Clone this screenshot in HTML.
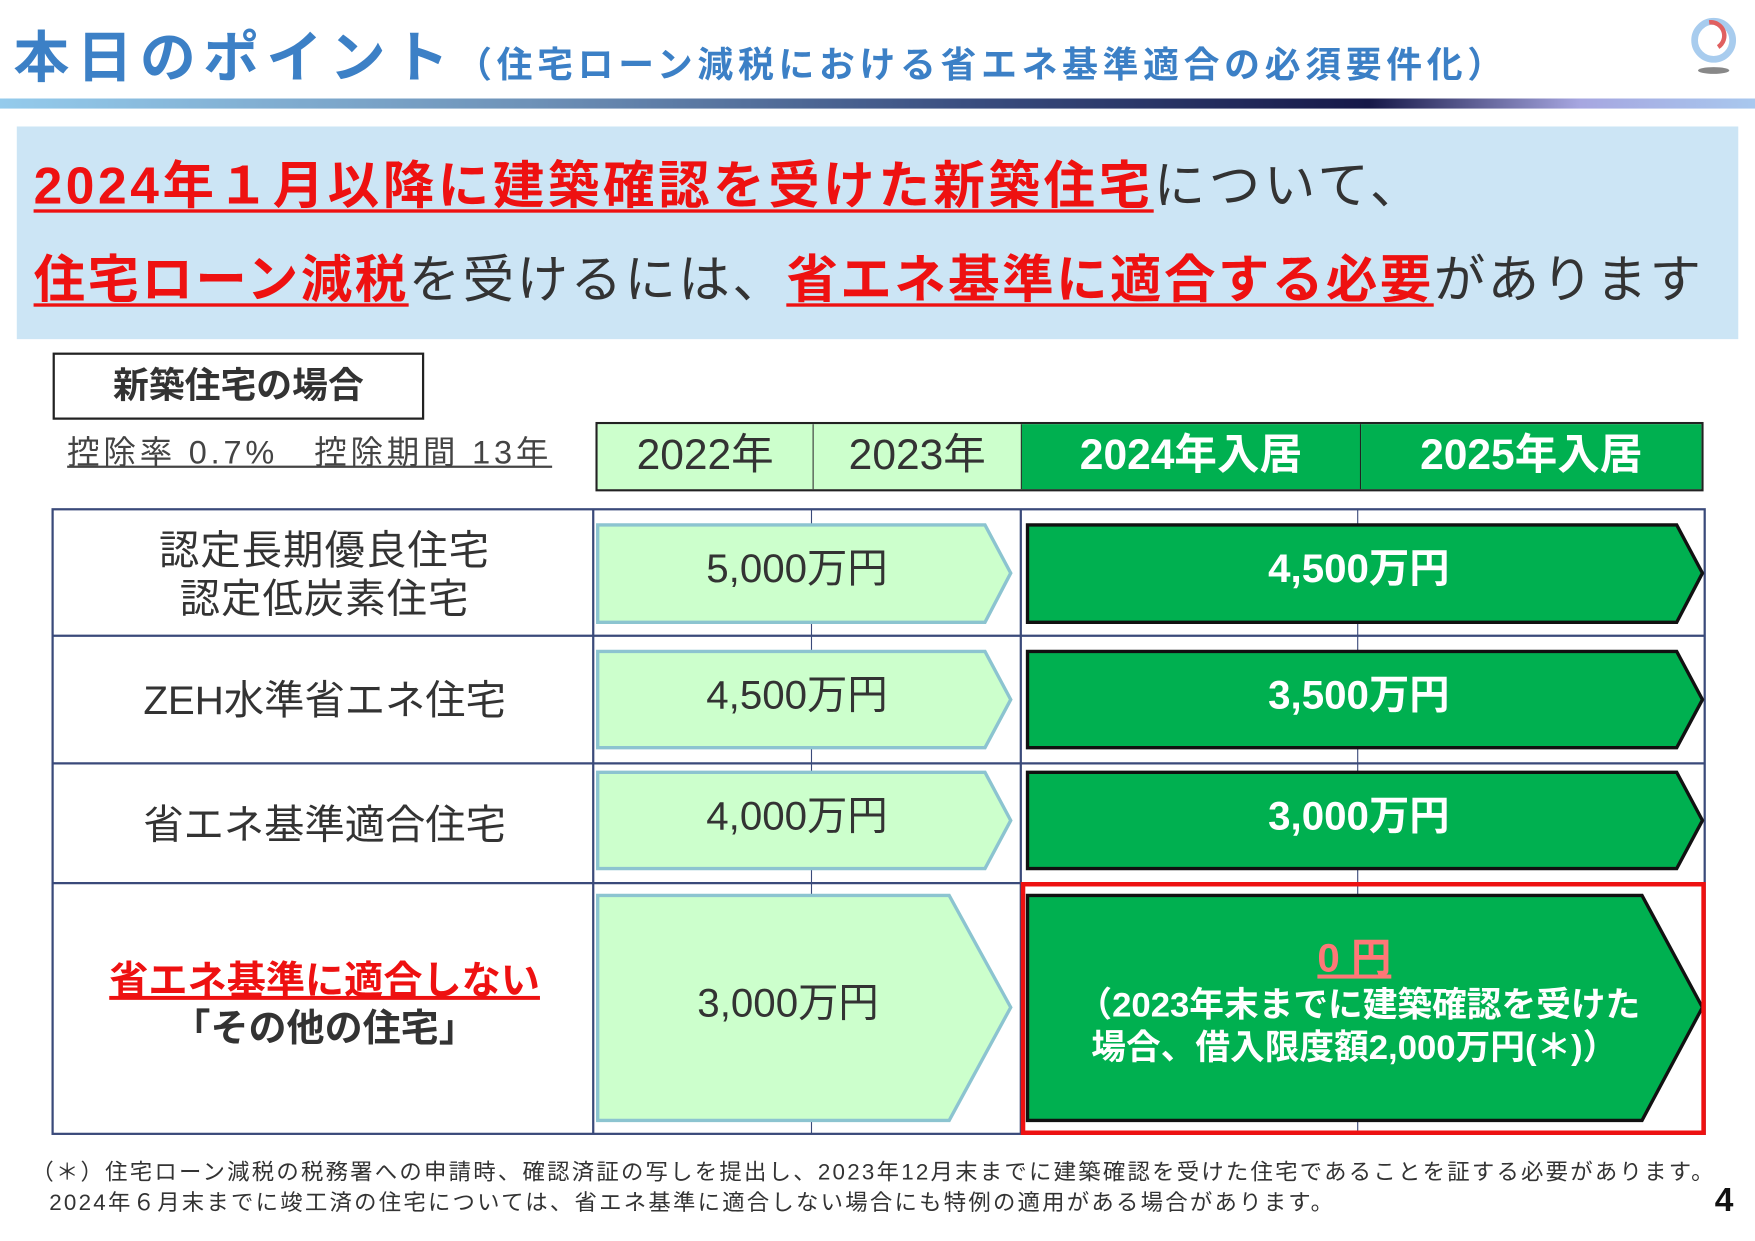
<!DOCTYPE html>
<html><head><meta charset="utf-8"><style>
html,body{margin:0;padding:0;background:#fff;}
body{width:1755px;height:1241px;overflow:hidden;position:relative;font-family:"Liberation Sans","Noto Sans CJK JP",sans-serif;}
#w{position:absolute;left:0;top:0;width:1568px;height:1109px;transform:scale(1.1193);transform-origin:0 0;}
.a{position:absolute;white-space:nowrap;}
.r{color:#ee1111;font-weight:bold;text-decoration:underline;text-decoration-thickness:3px;text-underline-offset:5px;}
.g{color:#333;}
</style></head><body><div id="w">
<div class="a" style="left:12px;top:20px;font-size:50px;font-weight:bold;color:#3c80c6;line-height:64px;letter-spacing:6.5px;">本日のポイント<span style="font-size:32px;letter-spacing:4.2px;">（住宅ローン減税における省エネ基準適合の必須要件化）</span></div>
<div class="a" style="left:0;top:88px;width:1568px;height:9px;background:linear-gradient(90deg,#94cbec 0%,#6e92b8 30%,#3a4e80 55%,#161848 78%,#a6a6e0 90%,#a8c8ee 100%);"></div>
<svg class="a" style="left:1505px;top:12px" width="55" height="58" viewBox="0 0 55 58">
<circle cx="26" cy="24" r="17" fill="none" stroke="#a8ccee" stroke-width="6"/>
<path d="M22 8 A12 12 0 0 1 30 30" fill="none" stroke="#e06060" stroke-width="4"/>
<ellipse cx="26" cy="51" rx="14" ry="3" fill="#888"/></svg>
<div class="a" style="left:15px;top:113px;width:1538px;height:190px;background:#cce5f5;"></div>
<div class="a" style="left:30px;top:136px;font-size:46px;line-height:60px;letter-spacing:3.2px;"><span class="r">2024年１月以降に建築確認を受けた新築住宅</span><span class="g">について、</span></div>
<div class="a" style="left:30px;top:220px;font-size:46px;line-height:60px;letter-spacing:2.2px;"><span class="r">住宅ローン減税</span><span class="g">を受けるには、</span><span class="r">省エネ基準に適合する必要</span><span class="g">があります</span></div>
<div class="a" style="left:47px;top:315px;width:328px;height:56px;border:2px solid #222;font-size:32px;font-weight:bold;color:#333;text-align:center;line-height:54px;">新築住宅の場合</div>
<div class="a" style="left:60px;top:386px;font-size:29px;color:#444;text-decoration:underline;line-height:38px;letter-spacing:3.4px;">控除率 0.7%　控除期間 13年</div>
<div class="a" style="left:532px;top:377px;width:990px;height:62px;border:2px solid #222;box-sizing:border-box;display:flex;font-size:38px;line-height:56px;text-align:center;">
<div style="width:192px;background:#ccffcc;color:#333;border-right:1px solid #222;">2022年</div>
<div style="width:185px;background:#ccffcc;color:#333;border-right:1px solid #222;">2023年</div>
<div style="width:302px;background:#00b050;color:#fff;font-weight:bold;border-right:1px solid #222;">2024年入居</div>
<div style="flex:1;background:#00b050;color:#fff;font-weight:bold;">2025年入居</div></div>
<svg class="a" style="left:0;top:0" width="1568" height="1109">
<g stroke="#3a4a7a" stroke-width="2" fill="none">
<rect x="47" y="455" width="1476" height="558"/>
<line x1="47" y1="568" x2="1523" y2="568"/><line x1="47" y1="682" x2="1523" y2="682"/><line x1="47" y1="789" x2="1523" y2="789"/>
<line x1="530" y1="455" x2="530" y2="1013"/><line x1="912" y1="455" x2="912" y2="1013"/>
<line x1="725" y1="455" x2="725" y2="1013" stroke-width="1"/><line x1="1213" y1="455" x2="1213" y2="1013" stroke-width="1"/></g>
<g fill="#ccffcc" stroke="#8cc4d0" stroke-width="3">
<polygon points="534,469 880,469 903,512 880,556 534,556"/>
<polygon points="534,582 880,582 903,625 880,668 534,668"/>
<polygon points="534,690 880,690 903,733 880,776 534,776"/>
<polygon points="534,800 848,800 903,900 848,1001 534,1001"/></g>
<g fill="#00b050" stroke="#111" stroke-width="3">
<polygon points="918,469 1498,469 1521,512 1498,556 918,556"/>
<polygon points="918,582 1498,582 1521,625 1498,668 918,668"/>
<polygon points="918,690 1498,690 1521,733 1498,776 918,776"/>
<polygon points="918,800 1467,800 1521,900 1467,1001 918,1001"/></g>
<rect x="914" y="790" width="608" height="222" fill="none" stroke="#ee1111" stroke-width="4"/>
<g font-size="36" fill="#333" text-anchor="middle">
<text x="712" y="520">5,000万円</text><text x="712" y="633">4,500万円</text><text x="712" y="741">4,000万円</text><text x="704" y="908">3,000万円</text>
<text x="290" y="504" letter-spacing="1">認定長期優良住宅</text><text x="290" y="547" letter-spacing="1">認定低炭素住宅</text>
<text x="290" y="638">ZEH水準省エネ住宅</text><text x="290" y="749">省エネ基準適合住宅</text></g>
<g font-size="36" fill="#fff" text-anchor="middle" font-weight="bold">
<text x="1214" y="520">4,500万円</text><text x="1214" y="633">3,500万円</text><text x="1214" y="741">3,000万円</text></g>
<text x="1210" y="868" font-size="36" font-weight="bold" fill="#ff7777" text-anchor="middle" text-decoration="underline">0 円</text>
<g font-size="31" fill="#fff" font-weight="bold" text-anchor="middle"><text x="1214" y="908">（2023年末までに建築確認を受けた</text><text x="1210" y="946">場合、借入限度額2,000万円(＊)）</text></g>
<text x="290" y="888" font-size="35" font-weight="bold" fill="#ee1111" text-anchor="middle" text-decoration="underline">省エネ基準に適合しない</text>
<text x="290" y="930" font-size="34" font-weight="bold" fill="#333" text-anchor="middle">「その他の住宅」</text>
<g font-size="20" fill="#333" letter-spacing="2"><text x="28" y="1054">（＊）住宅ローン減税の税務署への申請時、確認済証の写しを提出し、2023年12月末までに建築確認を受けた住宅であることを証する必要があります。</text>
<text x="44" y="1081">2024年６月末までに竣工済の住宅については、省エネ基準に適合しない場合にも特例の適用がある場合があります。</text></g>
<text x="1532" y="1082" font-size="30" font-weight="bold" fill="#111">4</text>
</svg>
</div></body></html>
